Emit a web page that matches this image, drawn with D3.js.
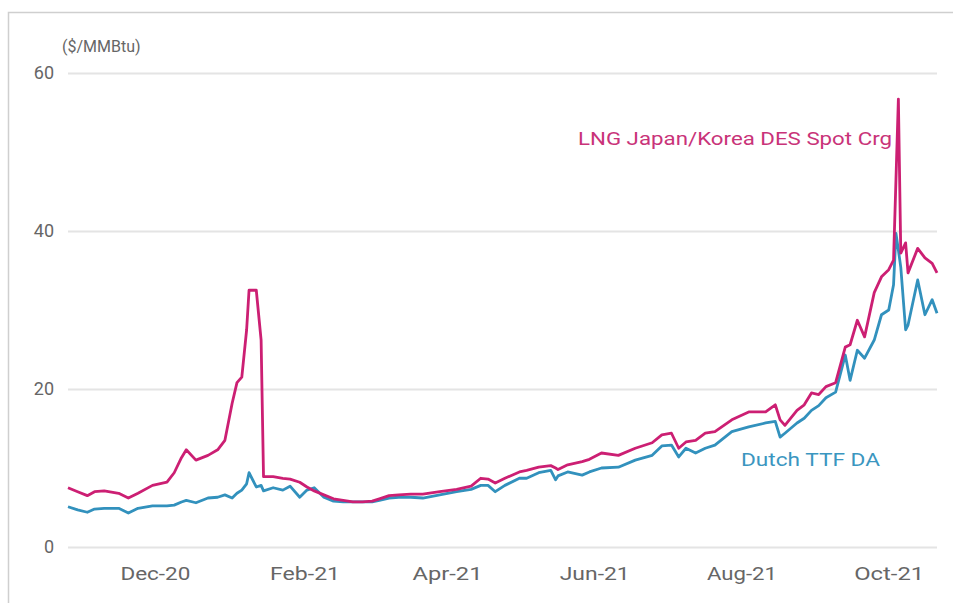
<!DOCTYPE html>
<html>
<head>
<meta charset="utf-8">
<script src="https://cdn.jsdelivr.net/npm/d3@7"></script>
<style>
  body { margin: 0; background: #fff; }
  svg { display: block; }
</style>
</head>
<body>
<div class="chart"></div>
<script>
const dates = [
  '2020-10-26', '2020-10-30', '2020-11-03', '2020-11-06', '2020-11-10', '2020-11-16',
  '2020-11-20', '2020-11-24', '2020-11-30', '2020-12-06', '2020-12-09', '2020-12-12',
  '2020-12-14', '2020-12-18', '2020-12-23', '2020-12-27', '2020-12-30', '2021-01-02',
  '2021-01-04', '2021-01-06', '2021-01-08', '2021-01-09', '2021-01-12', '2021-01-14',
  '2021-01-15', '2021-01-19', '2021-01-23', '2021-01-26', '2021-01-30', '2021-02-02',
  '2021-02-05', '2021-02-09', '2021-02-13', '2021-02-17', '2021-02-21', '2021-02-25',
  '2021-03-01', '2021-03-04', '2021-03-08', '2021-03-12', '2021-03-17', '2021-03-22',
  '2021-03-29', '2021-04-05', '2021-04-11', '2021-04-15', '2021-04-18', '2021-04-21',
  '2021-04-25', '2021-05-01', '2021-05-04', '2021-05-09', '2021-05-14', '2021-05-16',
  '2021-05-17', '2021-05-21', '2021-05-27', '2021-05-30', '2021-06-04', '2021-06-11',
  '2021-06-18', '2021-06-25', '2021-06-29', '2021-07-03', '2021-07-06', '2021-07-09',
  '2021-07-13', '2021-07-17', '2021-07-21', '2021-07-28', '2021-08-04', '2021-08-11',
  '2021-08-15', '2021-08-17', '2021-08-19', '2021-08-24', '2021-08-27', '2021-08-30',
  '2021-09-02', '2021-09-05', '2021-09-09', '2021-09-13', '2021-09-15', '2021-09-18',
  '2021-09-21', '2021-09-25', '2021-09-28', '2021-10-01', '2021-10-03', '2021-10-04',
  '2021-10-05', '2021-10-06', '2021-10-08', '2021-10-09', '2021-10-13', '2021-10-16',
  '2021-10-19', '2021-10-21'
];

// LNG Japan/Korea DES Spot Crg ($/MMBtu)
const jkm = [
  7.5, 7.0, 6.5, 7.0, 7.1, 6.8,
  6.2, 6.8, 7.8, 8.2, 9.4, 11.3,
  12.3, 11.0, 11.6, 12.3, 13.5, 18.2,
  20.8, 21.5, 27.5, 32.5, 32.5, 26.2,
  8.9, 8.9, 8.7, 8.6, 8.2, 7.6,
  7.1, 6.6, 6.1, 5.9, 5.7, 5.7,
  5.8, 6.1, 6.5, 6.6, 6.7, 6.7,
  7.0, 7.3, 7.7, 8.7, 8.6, 8.1,
  8.7, 9.5, 9.7, 10.1, 10.3, 10.0,
  9.8, 10.4, 10.8, 11.1, 11.9, 11.6,
  12.5, 13.2, 14.2, 14.4, 12.5, 13.3,
  13.5, 14.4, 14.6, 16.1, 17.1, 17.1,
  18.0, 16.1, 15.4, 17.3, 18.0, 19.5,
  19.3, 20.3, 20.8, 25.3, 25.6, 28.7,
  26.6, 32.2, 34.2, 35.1, 36.3, 46.5,
  56.7, 37.2, 38.5, 34.7, 37.8, 36.6,
  35.9, 34.7
];

// Dutch TTF DA ($/MMBtu)
const ttf = [
  5.1, 4.7, 4.4, 4.8, 4.9, 4.9,
  4.3, 4.9, 5.2, 5.2, 5.3, 5.7,
  5.9, 5.6, 6.2, 6.3, 6.6, 6.2,
  6.8, 7.2, 8.0, 9.4, 7.6, 7.8,
  7.1, 7.5, 7.2, 7.7, 6.3, 7.2,
  7.5, 6.3, 5.8, 5.7, 5.7, 5.7,
  5.7, 5.9, 6.2, 6.3, 6.3, 6.2,
  6.6, 7.0, 7.3, 7.8, 7.8, 7.0,
  7.8, 8.7, 8.7, 9.4, 9.7, 8.5,
  9.0, 9.5, 9.1, 9.5, 10.0, 10.1,
  11.0, 11.6, 12.8, 12.9, 11.4, 12.5,
  11.9, 12.5, 12.9, 14.6, 15.2, 15.7,
  15.9, 13.9, 14.4, 15.7, 16.3, 17.3,
  17.9, 18.9, 19.6, 24.3, 21.1, 24.9,
  23.9, 26.2, 29.4, 30.0, 33.2, 39.7,
  37.6, 35.4, 27.5, 28.1, 33.8, 29.4,
  31.3, 29.6
];

const yTicks = [0, 20, 40, 60];
const xTicks = ['2020-12-01', '2021-02-01', '2021-04-01', '2021-06-01', '2021-08-01', '2021-10-01'];
const unitLabel = '($/MMBtu)';
const seriesNames = ['LNG Japan/Korea DES Spot Crg', 'Dutch TTF DA'];

const width = 953;
const height = 603;
const colors = { jkm: '#cc1f73', ttf: '#3291bd' };

const parse = d3.timeParse('%Y-%m-%d');
const rows = dates.map((d, i) => ({ date: parse(d), jkm: jkm[i], ttf: ttf[i] }));

const svg = d3.select('.chart')
  .append('svg')
  .attr('width', width)
  .attr('height', height);

// frame
svg.append('path')
  .attr('d', `M8.5,${height} V12.5 H${width}`)
  .attr('fill', 'none')
  .attr('stroke', '#cfcfcf')
  .attr('stroke-width', 1.5);

const x = d3.scaleTime()
  .domain([parse('2020-10-26'), parse('2021-10-21')])
  .range([68, 937]);

const y = d3.scaleLinear()
  .domain([0, 60])
  .range([547, 73]);

/* grid + y labels */
const yAxis = d3.axisLeft(y)
  .tickValues(yTicks)
  .tickSize(-(937 - 68))
  .tickPadding(14);

const yAxisGroup = svg.append('g')
  .attr('transform', 'translate(68,0)')
  .call(yAxis);

yAxisGroup.select('.domain').remove();
yAxisGroup.selectAll('.tick line')
  .attr('stroke', '#e4e4e4')
  .attr('stroke-width', 2);
yAxisGroup.selectAll('.tick text')
  .attr('fill', '#666')
  .attr('font-family', 'Roboto, sans-serif')
  .attr('font-size', 18);

svg.append('text')
  .attr('x', 62)
  .attr('y', 52)
  .attr('fill', '#666')
  .attr('font-family', 'Roboto, sans-serif')
  .attr('font-size', 16)
  .text(unitLabel);

/* x labels */
const xAxis = d3.axisBottom(x)
  .tickValues(xTicks.map(parse))
  .tickFormat(d3.timeFormat('%b-%y'))
  .tickSize(0)
  .tickPadding(20);

const xAxisGroup = svg.append('g')
  .attr('transform', 'translate(0,547)')
  .call(xAxis);

xAxisGroup.select('.domain').remove();
xAxisGroup.selectAll('.tick text')
  .attr('fill', '#666')
  .attr('font-family', 'Roboto, sans-serif')
  .attr('font-size', 18)
  .attr('textLength', 70)
  .attr('lengthAdjust', 'spacingAndGlyphs');

/* lines */
const line = key => d3.line()
  .x(d => x(d.date))
  .y(d => y(d[key]));

svg.append('path')
  .datum(rows)
  .attr('fill', 'none')
  .attr('stroke', colors.ttf)
  .attr('stroke-width', 2.8)
  .attr('stroke-linejoin', 'round')
  .attr('d', line('ttf'));

svg.append('path')
  .datum(rows)
  .attr('fill', 'none')
  .attr('stroke', colors.jkm)
  .attr('stroke-width', 2.8)
  .attr('stroke-linejoin', 'round')
  .attr('d', line('jkm'));

/* labels */
svg.append('text')
  .attr('x', 578)
  .attr('y', 145)
  .attr('fill', '#c93379')
  .attr('font-family', 'Roboto, sans-serif')
  .attr('font-size', 19)
  .attr('textLength', 314)
  .attr('lengthAdjust', 'spacingAndGlyphs')
  .text(seriesNames[0]);

svg.append('text')
  .attr('x', 741)
  .attr('y', 466)
  .attr('fill', '#3b96c0')
  .attr('font-family', 'Roboto, sans-serif')
  .attr('font-size', 19)
  .attr('textLength', 139)
  .attr('lengthAdjust', 'spacingAndGlyphs')
  .text(seriesNames[1]);
</script>
</body>
</html>
